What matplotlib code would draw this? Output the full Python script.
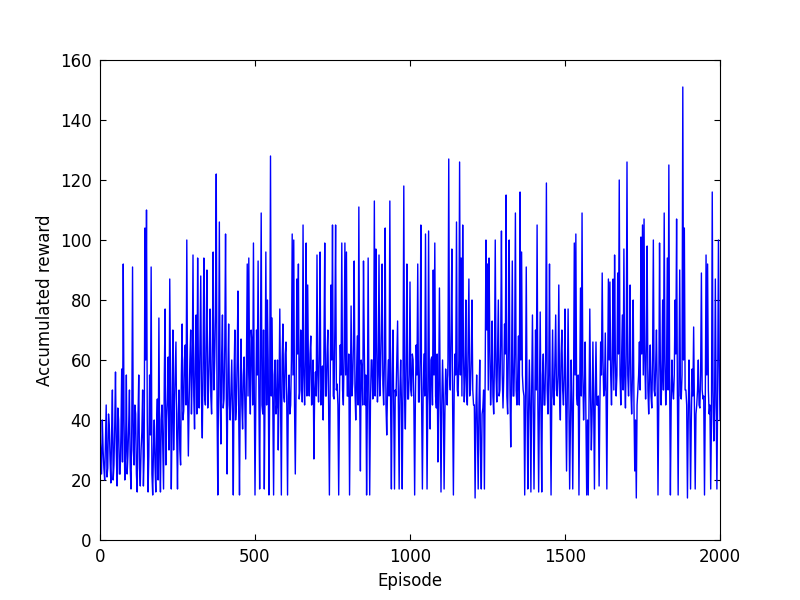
import matplotlib
matplotlib.use("Agg")
import matplotlib.pyplot as plt
import numpy as np

# Accumulated reward at episodes 0, 5, 10, ... (blocks of 100 episodes)
reward_0000 = [35, 22, 30, 20, 45, 24, 38, 19, 50, 25, 56, 18, 40, 22, 57, 92, 20, 55, 28, 50]
reward_0100 = [17, 91, 25, 42, 16, 55, 18, 36, 18, 104, 110, 16, 55, 91, 15, 40, 16, 47, 74, 16]
reward_0200 = [45, 17, 77, 40, 61, 87, 17, 70, 45, 66, 17, 50, 25, 72, 43, 65, 100, 28, 60, 42]
reward_0300 = [95, 37, 75, 94, 44, 88, 34, 94, 45, 90, 50, 77, 42, 96, 60, 122, 15, 106, 32, 75]
reward_0400 = [47, 102, 22, 72, 40, 60, 15, 70, 45, 83, 15, 67, 37, 61, 27, 92, 94, 42, 66, 99]
reward_0500 = [15, 70, 93, 17, 109, 42, 17, 96, 80, 15, 128, 74, 15, 60, 45, 30, 77, 15, 72, 46]
reward_0600 = [66, 15, 55, 45, 102, 100, 22, 87, 92, 50, 61, 105, 45, 99, 85, 48, 68, 46, 27, 56]
reward_0700 = [95, 46, 96, 50, 40, 99, 48, 70, 15, 85, 105, 47, 105, 52, 15, 65, 99, 45, 99, 96]
reward_0800 = [48, 15, 78, 52, 93, 40, 68, 111, 23, 57, 93, 45, 15, 94, 15, 60, 47, 113, 97, 46]
reward_0900 = [95, 55, 92, 45, 104, 35, 60, 113, 17, 70, 17, 48, 73, 17, 60, 17, 118, 37, 92, 47]
reward_1000 = [86, 48, 60, 15, 65, 92, 46, 105, 17, 62, 102, 17, 103, 37, 61, 90, 99, 44, 26, 84]
reward_1100 = [16, 60, 17, 57, 45, 127, 50, 97, 15, 62, 106, 48, 126, 94, 105, 46, 80, 45, 87, 50]
reward_1200 = [80, 45, 14, 55, 17, 60, 17, 44, 17, 100, 92, 94, 45, 73, 42, 100, 46, 80, 50, 103]
reward_1300 = [44, 72, 115, 42, 100, 31, 93, 48, 109, 45, 68, 116, 96, 50, 15, 91, 17, 60, 16, 75]
reward_1400 = [17, 70, 105, 16, 76, 16, 62, 45, 119, 42, 92, 15, 70, 45, 75, 48, 85, 40, 70, 45]
reward_1500 = [77, 23, 77, 17, 60, 17, 99, 102, 45, 15, 84, 109, 40, 66, 15, 15, 77, 30, 66, 17]
reward_1600 = [66, 45, 18, 66, 89, 48, 69, 17, 87, 86, 45, 87, 95, 48, 89, 120, 45, 75, 97, 44]
reward_1700 = [126, 48, 85, 42, 80, 23, 14, 50, 66, 101, 105, 107, 47, 98, 42, 65, 44, 100, 48, 70]
reward_1800 = [15, 99, 45, 80, 109, 45, 94, 125, 15, 60, 47, 80, 107, 15, 90, 47, 151, 104, 50, 14]
reward_1900 = [60, 17, 57, 71, 17, 45, 60, 44, 89, 47, 15, 95, 92, 42, 17, 116, 33, 87, 17, 100, 40]

# Reward in the dense band between those points (episodes 2.5, 7.5, 12.5, ...)
band_0000 = [28, 40, 24, 33, 21, 42, 27, 36, 20, 38, 30, 44, 22, 35, 26, 40, 30, 22, 38, 24]
band_0100 = [38, 30, 45, 22, 40, 24, 30, 50, 28, 60, 40, 28, 35, 22, 30, 25, 38, 20, 30, 40]
band_0200 = [30, 55, 25, 47, 30, 50, 40, 30, 55, 35, 42, 30, 55, 40, 60, 45, 50, 46, 70, 55]
band_0300 = [48, 60, 42, 55, 65, 46, 60, 48, 70, 44, 62, 48, 66, 50, 75, 45, 55, 48, 62, 44]
band_0400 = [65, 48, 55, 45, 50, 42, 55, 40, 60, 42, 50, 45, 55, 45, 60, 48, 55, 70, 45, 52]
band_0500 = [45, 55, 48, 60, 45, 70, 50, 45, 60, 50, 48, 45, 55, 42, 60, 50, 45, 60, 48, 62]
band_0600 = [45, 48, 42, 60, 55, 45, 50, 62, 47, 70, 46, 55, 60, 48, 55, 62, 45, 60, 50, 48]
band_0700 = [55, 62, 45, 58, 65, 48, 62, 45, 50, 60, 48, 70, 50, 45, 48, 55, 50, 62, 55, 48]
band_0800 = [62, 45, 48, 65, 50, 55, 45, 50, 60, 45, 65, 55, 45, 50, 46, 60, 52, 48, 65, 55]
band_0900 = [48, 70, 52, 60, 45, 50, 48, 45, 55, 45, 50, 60, 45, 50, 45, 55, 48, 60, 47, 55]
band_1000 = [50, 62, 45, 48, 55, 46, 60, 45, 50, 48, 55, 48, 50, 60, 45, 55, 48, 62, 50, 46]
band_1100 = [45, 48, 42, 50, 60, 55, 70, 45, 50, 55, 50, 60, 55, 48, 62, 55, 48, 65, 48, 60]
band_1200 = [50, 45, 42, 35, 45, 30, 42, 50, 55, 70, 50, 65, 55, 48, 60, 55, 62, 48, 65, 55]
band_1300 = [55, 62, 48, 65, 50, 55, 48, 62, 50, 55, 45, 60, 55, 48, 45, 50, 42, 45, 50, 45]
band_1400 = [45, 50, 45, 48, 42, 55, 45, 60, 50, 55, 45, 50, 48, 60, 50, 55, 48, 62, 50, 55]
band_1500 = [45, 50, 45, 40, 45, 50, 55, 48, 55, 50, 48, 55, 50, 42, 40, 45, 48, 42, 45, 48]
band_1600 = [45, 48, 45, 55, 60, 50, 48, 55, 60, 55, 62, 50, 60, 55, 62, 55, 60, 50, 55, 62]
band_1700 = [55, 60, 50, 55, 45, 40, 45, 55, 50, 62, 55, 60, 65, 50, 55, 48, 60, 50, 58, 50]
band_1800 = [45, 60, 55, 50, 60, 55, 50, 55, 45, 50, 55, 62, 50, 55, 48, 55, 60, 50, 45, 40]
band_1900 = [45, 40, 48, 45, 42, 50, 45, 55, 50, 48, 45, 55, 50, 45, 40, 50, 45, 48, 50, 60]

main_pts = (reward_0000 + reward_0100 + reward_0200 + reward_0300 + reward_0400 +
            reward_0500 + reward_0600 + reward_0700 + reward_0800 + reward_0900 +
            reward_1000 + reward_1100 + reward_1200 + reward_1300 + reward_1400 +
            reward_1500 + reward_1600 + reward_1700 + reward_1800 + reward_1900)
band_pts = (band_0000 + band_0100 + band_0200 + band_0300 + band_0400 +
            band_0500 + band_0600 + band_0700 + band_0800 + band_0900 +
            band_1000 + band_1100 + band_1200 + band_1300 + band_1400 +
            band_1500 + band_1600 + band_1700 + band_1800 + band_1900)

reward = np.empty(len(main_pts) + len(band_pts))
reward[0::2] = main_pts
reward[1::2] = band_pts
episodes = np.arange(len(reward)) * 2.5

x_ticks = [0, 500, 1000, 1500, 2000]
y_ticks = [0, 20, 40, 60, 80, 100, 120, 140, 160]

plt.rcParams['font.family'] = ['DejaVu Sans']
plt.rcParams['xtick.direction'] = 'in'
plt.rcParams['ytick.direction'] = 'in'
plt.rcParams['xtick.top'] = True
plt.rcParams['ytick.right'] = True
plt.rcParams['xtick.major.size'] = 4
plt.rcParams['ytick.major.size'] = 4

fig = plt.figure(figsize=(8, 6), dpi=100, facecolor='white')
ax = fig.add_axes([0.125, 0.1, 0.775, 0.8])
ax.plot(episodes, reward, color='#0000ff', linewidth=1.0)
ax.set_xlim(0, 2000)
ax.set_ylim(0, 160)
ax.set_xticks(x_ticks)
ax.set_yticks(y_ticks)
ax.tick_params(labelsize=12, pad=6)
ax.set_xlabel('Episode', fontsize=12)
ax.set_ylabel('Accumulated reward', fontsize=12)
fig.savefig('out.png', dpi=100, facecolor='white')
